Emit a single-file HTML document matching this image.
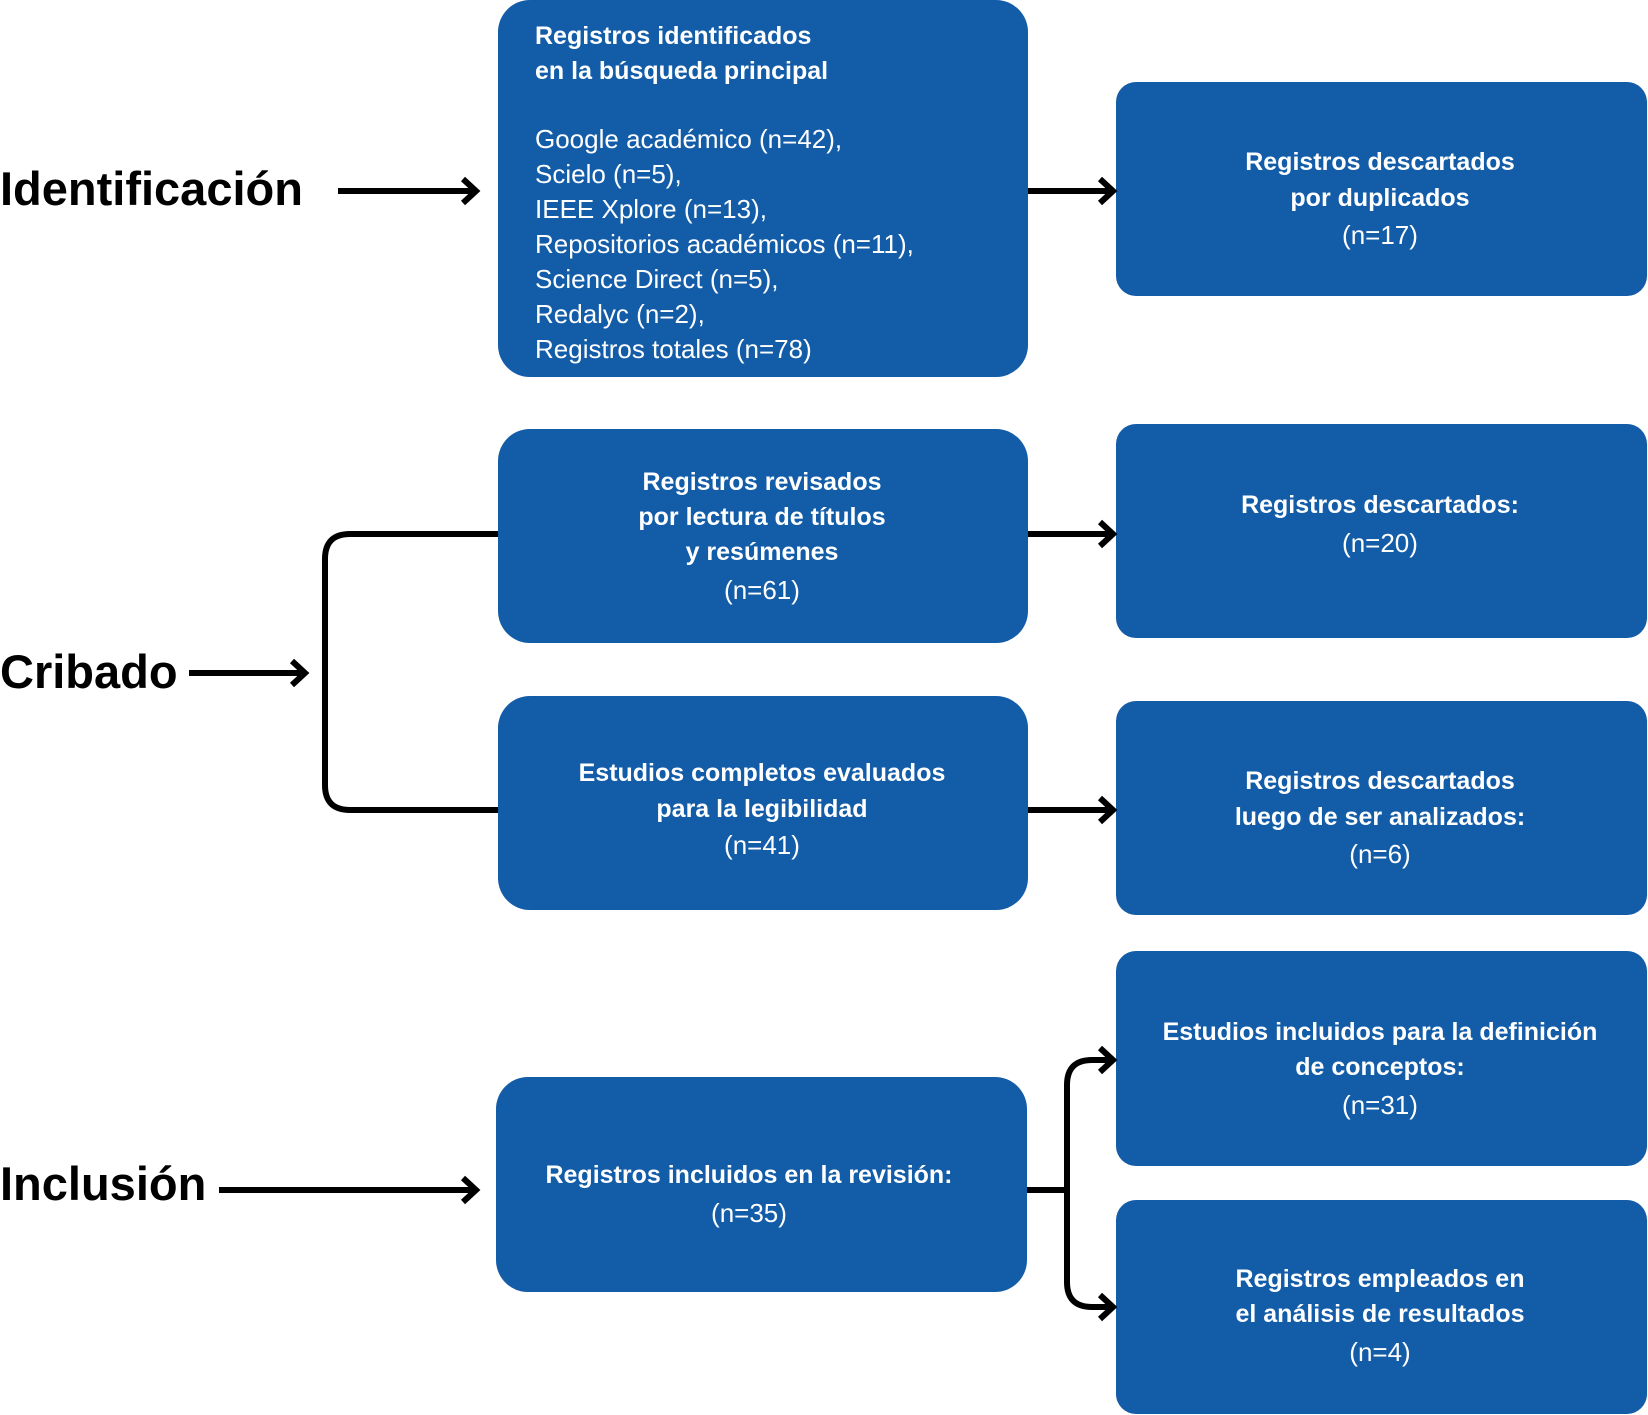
<!DOCTYPE html>
<html><head><meta charset="utf-8"><style>
html,body{margin:0;padding:0;background:#fff;}
svg{display:block;}
.b{font-family:"Liberation Sans",sans-serif;font-weight:bold;font-size:25px;fill:#fff;}
.r{font-family:"Liberation Sans",sans-serif;font-size:26px;fill:#fff;}
.l{font-family:"Liberation Sans",sans-serif;font-weight:bold;font-size:47px;fill:#000;}
.c{text-anchor:middle;}
</style></head><body>
<svg width="1648" height="1415" viewBox="0 0 1648 1415" xmlns="http://www.w3.org/2000/svg">
<g fill="#135ca8">
<rect x="498" y="0" width="530" height="377" rx="32"/>
<rect x="1116" y="82" width="531" height="214" rx="20"/>
<rect x="498" y="429" width="530" height="214" rx="32"/>
<rect x="1116" y="424" width="531" height="214" rx="20"/>
<rect x="498" y="696" width="530" height="214" rx="32"/>
<rect x="1116" y="701" width="531" height="214" rx="20"/>
<rect x="496" y="1077" width="531" height="215" rx="32"/>
<rect x="1116" y="951" width="531" height="215" rx="20"/>
<rect x="1116" y="1200" width="531" height="214" rx="20"/>
</g>
<g stroke="#000" stroke-width="6" fill="none">
<line x1="338" y1="191" x2="476" y2="191"/>
<polyline points="463,179 476,191 463,203"/>
<line x1="189" y1="673" x2="305" y2="673"/>
<polyline points="292,661 305,673 292,685"/>
<path d="M498,534 H350 Q325,534 325,559 V785 Q325,810 350,810 H498"/>
<line x1="219" y1="1190" x2="476" y2="1190"/>
<polyline points="463,1178 476,1190 463,1202"/>
<line x1="1028" y1="191" x2="1113" y2="191"/>
<polyline points="1100,179 1113,191 1100,203"/>
<line x1="1028" y1="534" x2="1113" y2="534"/>
<polyline points="1100,522 1113,534 1100,546"/>
<line x1="1028" y1="810" x2="1113" y2="810"/>
<polyline points="1100,798 1113,810 1100,822"/>
<line x1="1027" y1="1190" x2="1067" y2="1190"/>
<path d="M1113,1060 H1092 Q1067,1060 1067,1085 V1282 Q1067,1307 1092,1307 H1113"/>
<polyline points="1100,1048 1113,1060 1100,1072"/>
<polyline points="1100,1295 1113,1307 1100,1319"/>
</g>
<text class="l" x="0" y="205">Identificación</text>
<text class="l" x="0" y="688">Cribado</text>
<text class="l" x="0" y="1200">Inclusión</text>
<text class="b" x="535" y="44">Registros identificados</text>
<text class="b" x="535" y="79">en la búsqueda principal</text>
<text class="r" x="535" y="148">Google académico (n=42),</text>
<text class="r" x="535" y="183">Scielo (n=5),</text>
<text class="r" x="535" y="218">IEEE Xplore (n=13),</text>
<text class="r" x="535" y="253">Repositorios académicos (n=11),</text>
<text class="r" x="535" y="288">Science Direct (n=5),</text>
<text class="r" x="535" y="323">Redalyc (n=2),</text>
<text class="r" x="535" y="358">Registros totales (n=78)</text>
<text class="b c" x="1380" y="170">Registros descartados</text>
<text class="b c" x="1380" y="206">por duplicados</text>
<text class="r c" x="1380" y="244">(n=17)</text>
<text class="b c" x="762" y="490">Registros revisados</text>
<text class="b c" x="762" y="525">por lectura de títulos</text>
<text class="b c" x="762" y="560">y resúmenes</text>
<text class="r c" x="762" y="599">(n=61)</text>
<text class="b c" x="1380" y="513">Registros descartados:</text>
<text class="r c" x="1380" y="552">(n=20)</text>
<text class="b c" x="762" y="781">Estudios completos evaluados</text>
<text class="b c" x="762" y="817">para la legibilidad</text>
<text class="r c" x="762" y="854">(n=41)</text>
<text class="b c" x="1380" y="789">Registros descartados</text>
<text class="b c" x="1380" y="825">luego de ser analizados:</text>
<text class="r c" x="1380" y="863">(n=6)</text>
<text class="b c" x="749" y="1183">Registros incluidos en la revisión:</text>
<text class="r c" x="749" y="1222">(n=35)</text>
<text class="b c" x="1380" y="1040">Estudios incluidos para la definición</text>
<text class="b c" x="1380" y="1075">de conceptos:</text>
<text class="r c" x="1380" y="1114">(n=31)</text>
<text class="b c" x="1380" y="1287">Registros empleados en</text>
<text class="b c" x="1380" y="1322">el análisis de resultados</text>
<text class="r c" x="1380" y="1361">(n=4)</text>
</svg>
</body></html>
